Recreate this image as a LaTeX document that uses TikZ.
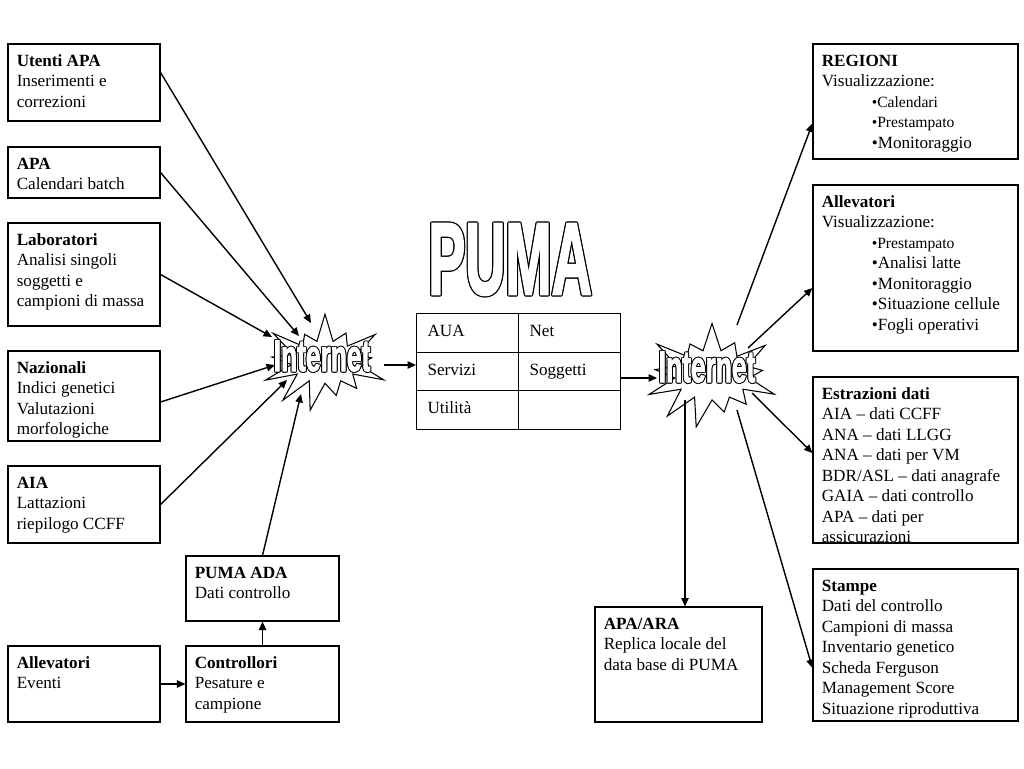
\documentclass[tikz,border=0pt]{standalone}
\usepackage{fontspec}
\setmainfont{Liberation Serif}
\newfontfamily\headfont{Liberation Sans}[BoldFeatures={FakeBold=2.5}]
\usetikzlibrary{arrows.meta,fit,shapes.symbols}

\newcommand\diagfont{\fontsize{9.75}{11.67}\selectfont}
\newcommand\lesstxt[1]{{\fontsize{8.9}{11.67}\selectfont #1}}
% outlined text: black copies around a white one
\newcommand\hollowpart[3]{\rlap{\hspace*{#1}\raisebox{#2}{#3}}}
\newcommand\hollowtxt[3]{%
\hollowpart{#1}{0pt}{#3}\hollowpart{-#1}{0pt}{#3}%
\hollowpart{0pt}{#1}{#3}\hollowpart{0pt}{-#1}{#3}%
\hollowpart{#2}{#2}{#3}\hollowpart{-#2}{#2}{#3}%
\hollowpart{#2}{-#2}{#3}\hollowpart{-#2}{-#2}{#3}%
\textcolor{white}{#3}}

\begin{document}
\begin{tikzpicture}[x=0.02cm, y=-0.02cm,
	blk/.style={draw, line width=0.65pt, inner sep=0pt},
	txt/.style={anchor=north west, inner sep=0pt, align=left, font=\diagfont},
	cell/.style={draw, line width=0.65pt, anchor=north west, minimum height=0.77cm, text width=1.6cm, inner xsep=0.22cm, inner ysep=0pt, align=left, font=\diagfont, text height=7pt, text depth=2.5pt},
	burst/.style={starburst, draw, fill=white, line width=0.6pt, inner sep=0pt, starburst points=13, starburst point height=0.6cm, random starburst=40},
	arr/.style={line width=0.8pt, -{Triangle[length=4.8pt,width=4.2pt]}}]
\useasboundingbox (0,0) rectangle (1024,768);

% left column
\node[blk, fit={(8,44) (160,121)}] (utenti) {}; % Utenti APA
\node[txt] (utentiT) at ([shift={(9,8)}]utenti.north west) {\strut\textbf{Utenti APA}\\Inserimenti e\\correzioni};
\node[blk, fit={(8,147) (160,198)}] (apa) {}; % APA
\node[txt] (apaT) at ([shift={(9,8)}]apa.north west) {\strut\textbf{APA}\\Calendari batch};
\node[blk, fit={(8,223) (160,326)}] (lab) {}; % Laboratori
\node[txt] (labT) at ([shift={(9,8)}]lab.north west) {\strut\textbf{Laboratori}\\Analisi singoli\\soggetti e\\campioni di massa};
\node[blk, fit={(8,351) (160,441)}] (naz) {}; % Nazionali
\node[txt] (nazT) at ([shift={(9,8)}]naz.north west) {\strut\textbf{Nazionali}\\Indici genetici\\Valutazioni\\morfologiche};
\node[blk, fit={(8,466) (160,543)}] (aia) {}; % AIA
\node[txt] (aiaT) at ([shift={(9,8)}]aia.north west) {\strut\textbf{AIA}\\Lattazioni\\riepilogo CCFF};
\node[blk, fit={(186,556) (339,621)}] (ada) {}; % PUMA ADA
\node[txt] (adaT) at ([shift={(9,8)}]ada.north west) {\strut\textbf{PUMA ADA}\\Dati controllo};
\node[blk, fit={(8,646) (160,722)}] (allevL) {}; % Allevatori
\node[txt] (allevLT) at ([shift={(9,8)}]allevL.north west) {\strut\textbf{Allevatori}\\Eventi};
\node[blk, fit={(186,646) (339,722)}] (contr) {}; % Controllori
\node[txt] (contrT) at ([shift={(9,8)}]contr.north west) {\strut\textbf{Controllori}\\Pesature e\\campione};

% centre
\node[font=\headfont\bfseries\fontsize{58}{60}\selectfont, inner sep=0pt] (puma) at (510,259.5) {\hollowtxt{.7pt}{.5pt}{\scalebox{0.545}[1]{PUMA}}};
\node[cell] (cellAUA) at (416,313) {AUA};
\node[cell] (cellNet) at (518,313) {Net};
\node[cell] (cellServ) at (416,351.5) {Servizi};
\node[cell] (cellSog) at (518,351.5) {Soggetti};
\node[cell] (cellUti) at (416,390) {Utilità};
\node[cell] (cellE) at (518,390) {};

% stars
\node[burst, minimum width=2.55cm, minimum height=2.05cm] (inetL) at (325,362) {};
\node[burst, minimum width=2.7cm, minimum height=2.2cm] (inetR) at (712,375) {};
\node[font=\headfont\bfseries\fontsize{25.4}{27}\selectfont, inner sep=0pt] (inetLT) at (322,356) {\hollowtxt{.55pt}{.4pt}{\scalebox{0.59}[1]{Internet}}};
\node[font=\headfont\bfseries\fontsize{25.4}{27}\selectfont, inner sep=0pt] (inetRT) at (707,367) {\hollowtxt{.55pt}{.4pt}{\scalebox{0.59}[1]{Internet}}};

% right column
\node[blk, fit={(813,44) (1018,159)}] (regioni) {}; % REGIONI
\node[txt] (regioniT) at ([shift={(9,8)}]regioni.north west) {\strut\textbf{REGIONI}\\Visualizzazione:\\\hspace*{1cm}\lesstxt{•Calendari}\\\hspace*{1cm}\lesstxt{•Prestampato}\\\hspace*{1cm}•Monitoraggio};
\node[blk, fit={(813,185) (1018,351)}] (allevR) {}; % Allevatori
\node[txt] (allevRT) at ([shift={(9,8)}]allevR.north west) {\strut\textbf{Allevatori}\\Visualizzazione:\\\hspace*{1cm}\lesstxt{•Prestampato}\\\hspace*{1cm}•Analisi latte\\\hspace*{1cm}•Monitoraggio\\\hspace*{1cm}•Situazione cellule\\\hspace*{1cm}•Fogli operativi};
\node[blk, fit={(813,377) (1018,543)}] (estr) {}; % Estrazioni dati
\node[txt] (estrT) at ([shift={(9,8)}]estr.north west) {\strut\textbf{Estrazioni dati}\\AIA -- dati CCFF\\ANA -- dati LLGG\\ANA -- dati per VM\\BDR/ASL -- dati anagrafe\\GAIA -- dati controllo\\APA -- dati per\\assicurazioni};
\node[blk, fit={(813,569) (1018,721)}] (stampe) {}; % Stampe
\node[txt] (stampeT) at ([shift={(9,8)}]stampe.north west) {\strut\textbf{Stampe}\\Dati del controllo\\Campioni di massa\\Inventario genetico\\Scheda Ferguson\\Management Score\\Situazione riproduttiva};
\node[blk, fit={(595,607) (762,722)}] (apaara) {}; % APA/ARA
\node[txt] (apaaraT) at ([shift={(9,8)}]apaara.north west) {\strut\textbf{APA/ARA}\\Replica locale del\\data base di PUMA};

% ports on the stars
\coordinate (pL0) at ([shift={(59,3)}]inetL.center);
\coordinate (pL1) at ([shift={(-14,-39)}]inetL.center);
\coordinate (pL2) at ([shift={(-26,-26)}]inetL.center);
\coordinate (pL3) at ([shift={(-53,-25)}]inetL.center);
\coordinate (pL4) at ([shift={(-50,3)}]inetL.center);
\coordinate (pL5) at ([shift={(-38,18)}]inetL.center);
\coordinate (pL6) at ([shift={(-24,32)}]inetL.center);
\coordinate (pR0) at ([shift={(-55,3)}]inetR.center);
\coordinate (pR1) at ([shift={(25,-50)}]inetR.center);
\coordinate (pR2) at ([shift={(36,-27)}]inetR.center);
\coordinate (pR3) at ([shift={(40,18)}]inetR.center);
\coordinate (pR4) at ([shift={(25,35)}]inetR.center);
\coordinate (pR5) at ([shift={(-27,25)}]inetR.center);

% connectors
\draw[arr] ([shift={(0,-10)}]utenti.east) -- (pL1);
\draw[arr] (apa.east) -- (pL2);
\draw[arr] (lab.east) -- (pL3);
\draw[arr] ([shift={(0,6)}]naz.east) -- (pL4);
\draw[arr] (aia.east) -- (pL5);
\draw[arr] (ada.north) -- (pL6);
\draw[arr] (contr.north) -- (ada.south);
\draw[arr] (allevL.east) -- (contr.west);
\draw[arr] (pL0) -- (pL0 -| cellServ.west);
\draw[arr] (cellSog.east |- pR0) -- (pR0);
\draw[arr] (pR1) -- ([shift={(0,22)}]regioni.west);
\draw[arr] (pR2) -- ([shift={(0,20)}]allevR.west);
\draw[arr] (pR3) -- ([shift={(0,-7)}]estr.west);
\draw[arr] (pR4) -- ([shift={(0,23)}]stampe.west);
\draw[arr] (pR5) -- (pR5 |- apaara.north);
\end{tikzpicture}
\end{document}
